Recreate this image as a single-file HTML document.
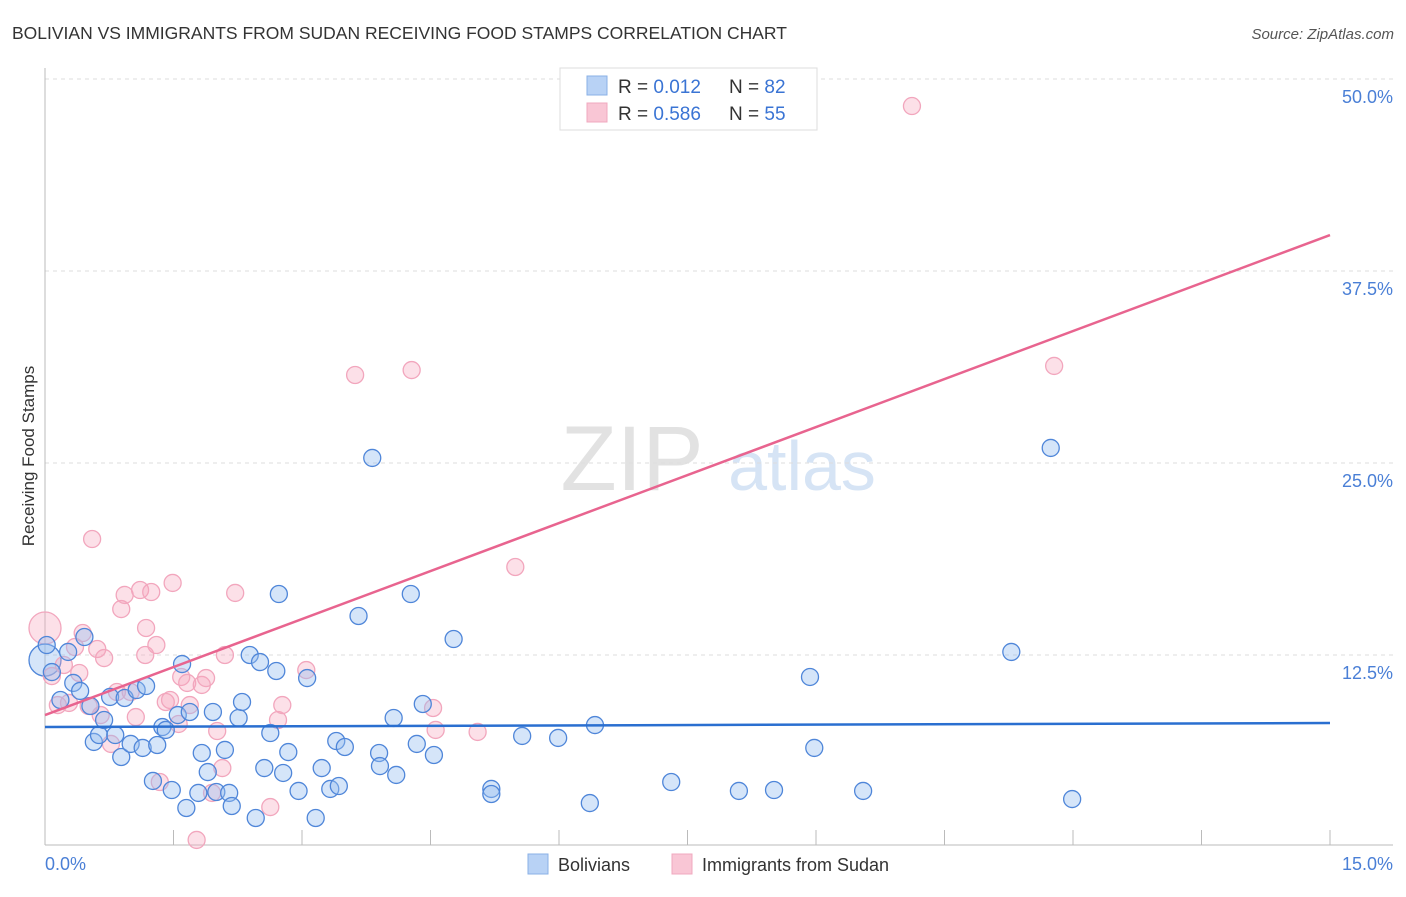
<!DOCTYPE html>
<html><head><meta charset="utf-8"><style>
body{margin:0;background:#fff;font-family:"Liberation Sans",sans-serif;}
svg text{font-family:"Liberation Sans",sans-serif;}
</style></head><body>
<svg id="chart" width="1406" height="892" xmlns="http://www.w3.org/2000/svg">
<text x="12" y="39" font-size="17.5" fill="#333">BOLIVIAN VS IMMIGRANTS FROM SUDAN RECEIVING FOOD STAMPS CORRELATION CHART</text>
<text x="1394" y="39" font-size="15" fill="#555" font-style="italic" text-anchor="end">Source: ZipAtlas.com</text>
<g>
<text x="632" y="490" font-size="92" fill="#e2e2e2" font-family="Liberation Serif, serif" text-anchor="middle">ZIP</text>
<text x="802" y="490" font-size="70" fill="#d6e4f5" text-anchor="middle">atlas</text>
</g>
<g id="grid"></g>
<g id="axes"></g>
<g id="trend"></g>
<g id="pts"></g>
<text transform="translate(34,456) rotate(-90)" font-size="17" fill="#333" text-anchor="middle">Receiving Food Stamps</text>
<text x="45" y="870" font-size="18" fill="#4a7fd6">0.0%</text>
<text x="1393" y="870" font-size="18" fill="#4a7fd6" text-anchor="end">15.0%</text>
<g>
<rect x="560" y="68" width="257" height="62" fill="#fff" stroke="#ddd"/>
<rect x="587" y="76" width="20" height="19" fill="#b8d2f5" stroke="#8ab0e6"/>
<rect x="587" y="103" width="20" height="19" fill="#f9c6d5" stroke="#f0a8bf"/>
<text x="618" y="93" font-size="19" fill="#333">R = <tspan fill="#3a74d4">0.012</tspan></text>
<text x="729" y="93" font-size="19" fill="#333">N = <tspan fill="#3a74d4">82</tspan></text>
<text x="618" y="120" font-size="19" fill="#333">R = <tspan fill="#3a74d4">0.586</tspan></text>
<text x="729" y="120" font-size="19" fill="#333">N = <tspan fill="#3a74d4">55</tspan></text>
</g>
<g>
<rect x="528" y="854" width="20" height="20" fill="#b8d2f5" stroke="#8ab0e6"/>
<text x="558" y="871" font-size="18" fill="#333">Bolivians</text>
<rect x="672" y="854" width="20" height="20" fill="#f9c6d5" stroke="#f0a8bf"/>
<text x="702" y="871" font-size="18" fill="#333">Immigrants from Sudan</text>
</g>
</svg>
<script>
const yTicks=[12.5,25,37.5,50];
const yTickLabels=["12.5%","25.0%","37.5%","50.0%"];
const blueX=[0.02,0.08,0.18,0.27,0.33,0.41,0.46,0.53,0.57,0.63,0.69,0.76,0.82,0.89,0.93,1.00,1.07,1.14,1.18,1.26,1.31,1.37,1.41,1.48,1.55,1.60,1.65,1.69,1.79,1.83,1.90,1.96,2.00,2.10,2.15,2.18,2.26,2.30,2.39,2.46,2.51,2.56,2.63,2.70,2.73,2.78,2.84,2.96,3.06,3.16,3.23,3.33,3.40,3.43,3.50,3.66,3.82,3.90,3.91,4.07,4.10,4.27,4.34,4.41,4.54,4.77,5.21,5.21,5.57,5.99,6.36,6.42,7.31,8.10,8.51,8.93,8.98,9.55,11.28,11.74,11.99];
const blueY=[13.15,11.39,9.57,12.70,10.68,10.16,13.67,9.18,6.84,7.29,8.27,9.77,7.29,5.86,9.70,6.71,10.22,6.45,10.48,4.30,6.64,7.81,7.62,3.71,8.59,11.91,2.54,8.79,3.52,6.12,4.88,8.79,3.58,6.32,3.52,2.67,8.40,9.44,12.50,1.89,12.04,5.14,7.42,11.46,16.47,4.82,6.18,3.65,11.00,1.89,5.14,3.78,6.90,3.97,6.51,15.04,25.33,6.12,5.27,8.40,4.69,16.47,6.71,9.31,5.99,13.54,3.78,3.45,7.23,7.10,2.86,7.94,4.23,3.65,3.71,11.07,6.45,3.65,12.70,25.98,3.12];
const pinkX=[0.08,0.15,0.22,0.28,0.35,0.40,0.44,0.51,0.55,0.61,0.65,0.69,0.77,0.84,0.89,0.93,1.00,1.06,1.11,1.18,1.17,1.24,1.30,1.34,1.41,1.46,1.49,1.56,1.59,1.66,1.69,1.77,1.83,1.88,1.95,2.01,2.07,2.10,2.22,2.63,2.72,2.77,3.05,3.62,4.28,4.53,4.56,5.05,5.49,10.12,11.78];
const pinkY=[11.13,9.24,11.85,9.38,13.02,11.33,13.93,9.18,20.05,12.89,8.59,12.30,6.71,10.09,15.49,16.41,10.09,8.46,16.73,14.26,12.50,16.60,13.15,4.23,9.44,9.57,17.19,8.01,11.07,10.68,9.24,0.46,10.55,11.00,3.52,7.55,5.14,12.50,16.54,2.60,8.27,9.24,11.52,30.73,31.05,9.05,7.62,7.49,18.23,48.24,31.32];
const bigBlue=[[0.0,12.17]];
const bigPink=[[0.0,14.26]];
const blueTrend=[7.81,8.07];
const pinkTrend=[8.59,39.84];
const X0=45,X1=1330,Y0=847,PXPER=192/12.5;
const sx=v=>X0+v/15*(X1-X0);
const sy=v=>Y0-v*PXPER;
const NS="http://www.w3.org/2000/svg";
function mk(tag,attrs,parent){const e=document.createElementNS(NS,tag);for(const k in attrs)e.setAttribute(k,attrs[k]);parent.appendChild(e);return e;}
const grid=document.getElementById('grid'),axes=document.getElementById('axes'),trend=document.getElementById('trend'),pts=document.getElementById('pts');
yTicks.forEach((t,i)=>{
 const l=mk('line',{x1:X0,x2:1393,y1:sy(t),y2:sy(t),stroke:'#ddd','stroke-dasharray':'4,4'},grid);
 
 
 const tx=mk('text',{x:1393,y:sy(t)+24,'font-size':18,fill:'#4a7fd6','text-anchor':'end'},grid);
 tx.textContent=yTickLabels[i];
 
 
});
const ax=mk('line',{x1:X0,x2:1393,y1:845,y2:845,stroke:'#bbb'},axes);


const ay=mk('line',{x1:X0,x2:X0,y1:68,y2:845,stroke:'#bbb'},axes);


for(let i=1;i<=10;i++){
 const t=mk('line',{x1:sx(i*1.5),x2:sx(i*1.5),y1:830,y2:845,stroke:'#bbb'},axes);
 
 
}
function dot(x,y,r,col,name){
 const c=mk('circle',{cx:sx(x),cy:sy(y),r:r,fill:col[0],stroke:col[1],'stroke-width':1.3},pts);
 
 
}
const PC=['rgba(245,165,190,0.35)','#f2a6bd'],BC=['rgba(150,190,240,0.4)','#4f86d9'];
bigPink.forEach(p=>dot(p[0],p[1],16,PC,'sudan-point'));
bigBlue.forEach(p=>dot(p[0],p[1],16,BC,'bolivian-point'));
pinkX.forEach((x,i)=>dot(x,pinkY[i],8.5,PC,'sudan-point'));
blueX.forEach((x,i)=>dot(x,blueY[i],8.5,BC,'bolivian-point'));
const bt=mk('line',{x1:sx(0),x2:sx(15),y1:sy(blueTrend[0]),y2:sy(blueTrend[1]),stroke:'#2a6fd0','stroke-width':2.5},trend);


const pt=mk('line',{x1:sx(0),x2:sx(15),y1:sy(pinkTrend[0]),y2:sy(pinkTrend[1]),stroke:'#e8648f','stroke-width':2.5},trend);


document.getElementById('chart').appendChild(trend);
</script>
</body></html>
